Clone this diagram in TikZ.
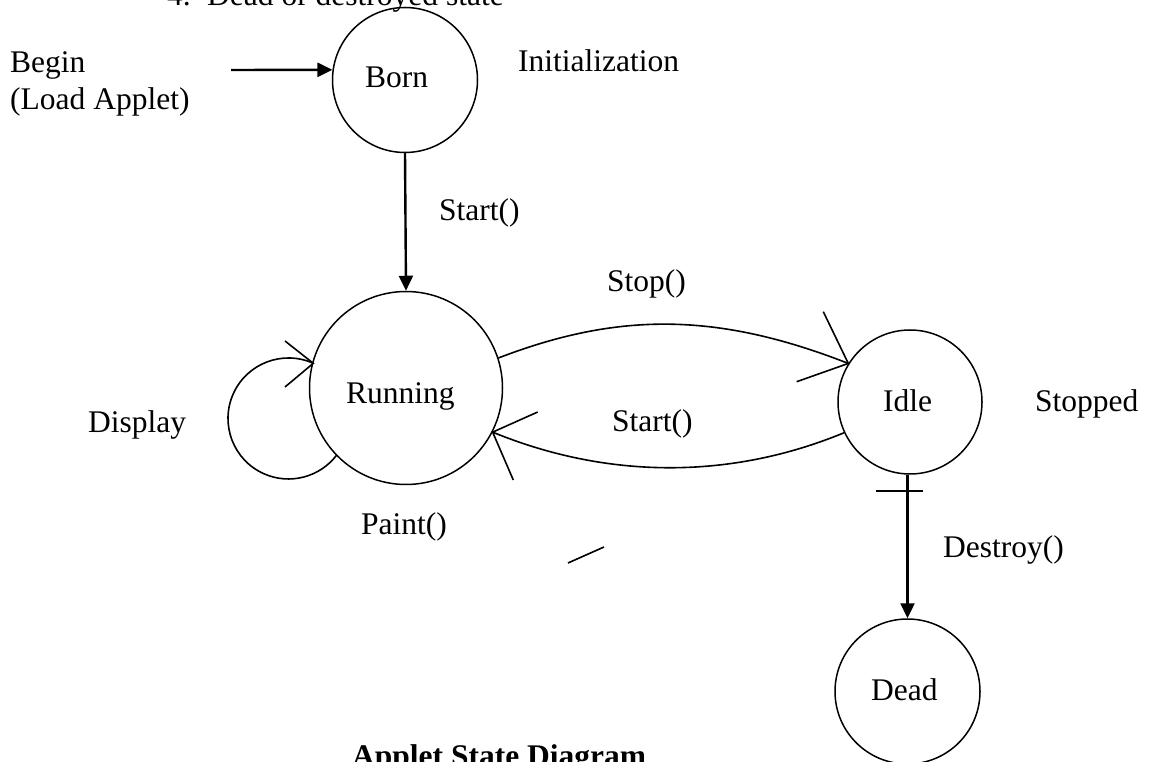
\documentclass[tikz,border=0pt]{standalone}
\usepackage{fontspec}
\setmainfont{Liberation Serif}
\usetikzlibrary{arrows.meta}
\begin{document}
\begin{tikzpicture}[x=1pt,y=1pt,
  state/.style={draw, circle, line width=1.5pt, inner sep=0pt},
  lbl/.style={anchor=base west, inner sep=0pt, font=\fontsize{31.5}{37}\selectfont},
  arr/.style={line width=2.4pt, -{Triangle[length=15pt,width=14pt]}},
  curve/.style={line width=1.6pt},
  tipline/.style={line width=1.6pt}]
\useasboundingbox (0,0) rectangle (1151,761);
% states
\node[state, minimum size=145pt] (born) at (405,681) {};
\node[state, minimum size=193pt] (running) at (406,373) {};
\node[state, minimum size=144pt] (idle) at (910,359) {};
\node[state, minimum size=145pt] (dead) at (907.5,69.5) {};
% state labels
\node[lbl] (tborn) at (365,673) {Born};
\node[lbl] (trunning) at (346,357) {Running};
\node[lbl] (tidle) at (883,349) {Idle};
\node[lbl] (tdead) at (871,61) {Dead};
% other texts
\node[lbl] (tnum) at (167,755) {4.};
\node[lbl] (thead) at (207,755) {Dead or destroyed state};
\node[lbl] (tbegin) at (10,688) {Begin};
\node[lbl] (tload) at (10,651) {(Load Applet)};
\node[lbl] (tinit) at (518,689) {Initialization};
\node[lbl] (tstart1) at (439,540) {Start()};
\node[lbl] (tstop) at (607,469) {Stop()};
\node[lbl] (tstart2) at (612,329) {Start()};
\node[lbl] (tstopped) at (1035,349) {Stopped};
\node[lbl] (tdisplay) at (88,328) {Display};
\node[lbl] (tpaint) at (361,226) {Paint()};
\node[lbl] (tdestroy) at (943,204) {Destroy()};
\node[lbl, font=\fontsize{31.5}{37}\selectfont\bfseries] (ttitle) at (352,-5) {Applet State Diagram};
% straight arrows
\coordinate (bs) at (231,691);
\draw[arr] (bs) -- (born.172);
\draw[arr] (born.south) -- (running.north);
\draw[arr] (dead.north |- idle.south) -- (dead.north);
\coordinate (tickl) at (876,270);
\coordinate (tickr) at (923,270);
\draw[line width=2pt] (tickl) -- (tickr);
% self loop
\coordinate (loopin) at (313.3,397.7);
\draw[curve] (loopin) arc[start angle=65.8, end angle=323.2, radius=60.5];
\coordinate (la1) at (285,420);
\coordinate (la2) at (285,374);
\draw[tipline] (la1) -- (loopin) -- (la2);
% stop arc
\draw[curve] (running.18) .. controls (618,449) and (717,449) .. (idle.148);
\coordinate (sa1) at (823.3,449.3);
\coordinate (sa2) at (796.7,379.3);
\draw[tipline] (sa1) -- (idle.148) -- (sa2);
% start arc
\draw[curve] (idle.205) .. controls (731,281.5) and (608,281.5) .. (running.333);
\coordinate (ra1) at (537.7,349);
\coordinate (ra2) at (513.3,281);
\draw[tipline] (ra1) -- (running.333) -- (ra2);
% stray stroke
\coordinate (st1) at (568,198);
\coordinate (st2) at (604,214);
\draw[tipline] (st1) -- (st2);
\end{tikzpicture}
\end{document}
